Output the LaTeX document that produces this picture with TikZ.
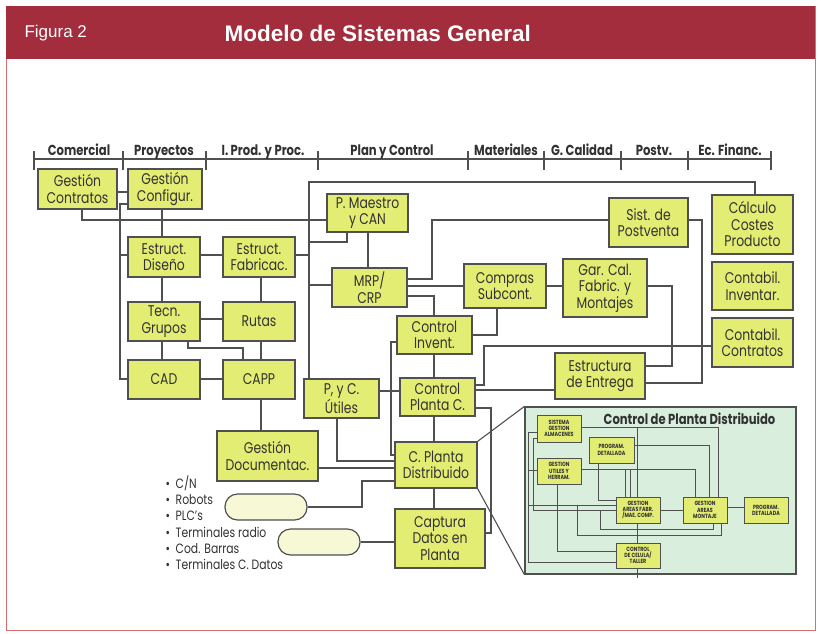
\documentclass[tikz,border=0pt]{standalone}
\usepackage{fontspec}
\setmainfont{Poppins}[FakeStretch=0.8]
\newfontfamily\headfont{Liberation Sans}
\pgfdeclarelayer{back}
\pgfdeclarelayer{wires}
\pgfsetlayers{back,wires,main}

\definecolor{headred}{RGB}{163,45,60}
\definecolor{framered}{RGB}{214,110,110}
\definecolor{boxfill}{RGB}{228,237,115}
\definecolor{boxline}{RGB}{80,80,80}
\definecolor{ink}{RGB}{50,50,50}
\definecolor{panelfill}{RGB}{218,238,222}
\definecolor{pillfill}{RGB}{246,248,214}

\tikzset{
  box/.style={draw=boxline, fill=boxfill, line width=1.3, inner sep=0, align=center,
    text=ink, font=\fontsize{15.5}{16.5}\selectfont},
  sz/.style 2 args={minimum width=#1, minimum height=#2},
  sbox/.style={draw=boxline, fill=boxfill, line width=0.9, inner sep=0, align=center,
    text=ink, font=\bfseries\fontsize{6}{6.3}\selectfont},
  conn/.style={draw=boxline, line width=1.1},
  thin conn/.style={draw=boxline, line width=0.9},
  area/.style={text=ink, anchor=base, font=\bfseries\fontsize{14.5}{15}\selectfont},
  bullet/.style={text=ink, anchor=base west, font=\fontsize{13.5}{14}\selectfont},
  pill/.style={draw=boxline, fill=pillfill, line width=1.2, rounded corners=12.5,
    minimum width=82, minimum height=26, inner sep=0},
  panel/.style={draw=boxline, fill=panelfill, line width=1.2, inner sep=0}
}

\begin{document}
\begin{tikzpicture}[x=1pt,y=-1pt]
\useasboundingbox (0,0) rectangle (821,633);

% page frame and title band
\begin{pgfonlayer}{back}
  \fill[white] (0,0) rectangle (821,633);
  \draw[framered, line width=1] (6,6) rectangle (815,630);
  \fill[headred] (6,6) rectangle (815,59);
  \node[anchor=west, text=white, font=\headfont\fontsize{17}{17}\selectfont] (fig) at (21,33) {Figura 2};
  \node[anchor=west, text=white, font=\headfont\bfseries\fontsize{22.5}{22.5}\selectfont] (title) at (221,33) {Modelo de Sistemas General};
  % distributed plant control panel
  \node[panel, sz={271}{167}] (panel) at (660.5,490.5) {};
\end{pgfonlayer}

% functional areas ruler
\draw[conn] (34,159) -- (771,159);
\foreach \x in {34,123,206,318,468,544,621,688,771}
  \draw[conn] (\x,151) -- (\x,170);
\node[area] (a1) at (79,155) {Comercial};
\node[area] (a2) at (164,155) {Proyectos};
\node[area] (a3) at (263,155) {I. Prod. y Proc.};
\node[area] (a4) at (392,155) {Plan y Control};
\node[area] (a5) at (506,155) {Materiales};
\node[area] (a6) at (582,155) {G. Calidad};
\node[area] (a7) at (654,155) {Postv.};
\node[area] (a8) at (730,155) {Ec. Financ.};

% main system boxes
\node[box, sz={79}{40}] (gcont) at (77.5,189) {Gestión\\Contratos};
\node[box, sz={74}{40}] (gconf) at (165,189) {Gestión\\Configur.};
\node[box, sz={81}{38}] (pmae) at (367.5,213) {P. Maestro\\y CAN};
\node[box, sz={72}{40}] (edis) at (164,257) {Estruct.\\Diseño};
\node[box, sz={72}{40}] (efab) at (259,257) {Estruct.\\Fabricac.};
\node[box, sz={75}{39}] (mrp) at (369.5,287.5) {MRP/\\CRP};
\node[box, sz={72}{39}] (tecn) at (164,321.5) {Tecn.\\Grupos};
\node[box, sz={72}{39}] (rutas) at (259,321.5) {Rutas};
\node[box, sz={72}{39}] (cad) at (164,379.5) {CAD};
\node[box, sz={72}{39}] (capp) at (259,379.5) {CAPP};
\node[box, sz={75}{39}] (pyc) at (341.5,398.5) {P, y C.\\Útiles};
\node[box, sz={75}{38}] (cinv) at (434.5,335) {Control\\Invent.};
\node[box, sz={75}{38}] (cpc) at (437.5,397) {Control\\Planta C.};
\node[box, sz={82}{46}] (cpd) at (436,465) {C. Planta\\Distribuido};
\node[box, sz={101}{50}] (gdoc) at (267.5,456) {Gestión\\Documentac.};
\node[box, sz={90}{59}] (capt) at (440,538.5) {Captura\\Datos en\\Planta};
\node[box, sz={82}{44}] (compras) at (505,286) {Compras\\Subcont.};
\node[box, sz={84}{58}] (garcal) at (605,288) {Gar. Cal.\\Fabric. y\\Montajes};
\node[box, sz={79}{49}] (postv) at (648.5,222.5) {Sist. de\\Postventa};
\node[box, sz={90}{46}] (estr) at (600,376) {Estructura\\de Entrega};
\node[box, sz={81}{59}] (calc) at (752.5,224.5) {Cálculo\\Costes\\Producto};
\node[box, sz={81}{48}] (cinvt) at (752.5,286) {Contabil.\\Inventar.};
\node[box, sz={81}{49}] (ccont) at (752.5,342.5) {Contabil.\\Contratos};

% shop-floor devices
\node[pill] (pill1) at (266,507) {};
\node[pill] (pill2) at (319,542) {};
\node[bullet] (b1) at (162,488) {\textbullet\ \ C/N};
\node[bullet] (b2) at (162,504) {\textbullet\ \ Robots};
\node[bullet] (b3) at (162,520) {\textbullet\ \ PLC's};
\node[bullet] (b4) at (162,537) {\textbullet\ \ Terminales radio};
\node[bullet] (b5) at (162,553) {\textbullet\ \ Cod. Barras};
\node[bullet] (b6) at (162,569) {\textbullet\ \ Terminales C. Datos};

% panel contents
\node[text=ink, font=\bfseries\fontsize{14.5}{15}\selectfont] (ptitle) at (689.5,419) {Control de Planta Distribuido};
\node[sbox, sz={44}{27}] (p1) at (559,428.5) {SISTEMA\\GESTION\\ALMACENES};
\node[sbox, sz={45}{26}] (p2) at (611.5,450) {PROGRAM.\\DETALLADA};
\node[sbox, sz={44}{26}] (p3) at (559,471) {GESTION\\UTILES Y\\HERRAM.};
\node[sbox, sz={44}{26}] (p4) at (638,510) {GESTION\\AREAS FABR.\\/MAE. COMP.};
\node[sbox, sz={44}{26}] (p5) at (705,510) {GESTION\\AREAS\\MONTAJE};
\node[sbox, sz={44}{26}] (p6) at (766,510) {PROGRAM.\\DETALLADA};
\node[sbox, sz={44}{25}] (p7) at (638,555.5) {CONTROL\\DE CELULA/\\TALLER};

\begin{pgfonlayer}{wires}
  % engineering column
  \draw[conn] (gcont.east |- 0,192) -- (gconf.west |- 0,192);
  \draw[conn] (gconf.west |- 0,204) -| (120,379) -- (cad.west |- 0,379);
  \draw[conn] (120,255) -- (edis.west |- 0,255);
  \draw[conn] (gcont.south -| 82,0) |- (pmae.west |- 0,220);
  \draw[conn] (gconf.south -| 162,0) -- (edis.north -| 162,0);
  \draw[conn] (edis.east |- 0,255) -- (efab.west |- 0,255);
  \draw[conn] (efab.east |- 0,255) -- (309,255);
  \draw[conn] (edis.south -| 162,0) -- (tecn.north -| 162,0);
  \draw[conn] (efab.south -| 261,0) -- (rutas.north -| 261,0);
  \draw[conn] (tecn.east |- 0,319) -- (rutas.west |- 0,319);
  \draw[conn] (tecn.south -| 162,0) -- (cad.north -| 162,0);
  \draw[conn] (tecn.south -| 188,0) |- (243,348) -- (capp.north -| 243,0);
  \draw[conn] (rutas.south -| 261,0) -- (capp.north -| 261,0);
  \draw[conn] (cad.east |- 0,379) -- (capp.west |- 0,379);
  \draw[conn] (capp.south -| 261,0) -- (gdoc.north -| 261,0);
  % planning trunk
  \draw[conn] (pyc.north -| 309,0) |- (755,182) -- (calc.north -| 755,0);
  \draw[conn] (pmae.south -| 347,0) |- (309,242);
  \draw[conn] (309,285) -- (mrp.west |- 0,285);
  \draw[conn] (pmae.south -| 368,0) -- (mrp.north -| 368,0);
  \draw[conn] (mrp.east |- 0,279) -| (432,220) -- (postv.west |- 0,220);
  \draw[conn] (mrp.east |- 0,286) -- (compras.west |- 0,286);
  \draw[conn] (mrp.east |- 0,296) -| (cinv.north -| 434,0);
  \draw[conn] (compras.east |- 0,286) -- (garcal.west |- 0,286);
  \draw[conn] (compras.south -| 497,0) |- (cinv.east |- 0,335);
  \draw[conn] (garcal.east |- 0,286) -| (672,366) -- (estr.east |- 0,366);
  \draw[conn] (postv.east |- 0,220) -| (702,383) -- (estr.east |- 0,383);
  % shop-floor column
  \draw[conn] (cinv.south -| 434,0) -- (cpc.north -| 434,0);
  \draw[conn] (cpc.east |- 0,385) -| (484,346) -- (ccont.west |- 0,346);
  \draw[conn] (cpc.east |- 0,390) -- (estr.west |- 0,390);
  \draw[conn] (cpc.east |- 0,408) -| (491,533) -- (capt.east |- 0,533);
  \draw[conn] (cpc.south -| 434,0) -- (cpd.north -| 434,0);
  \draw[conn] (cinv.west |- 0,342) -| (391,455) -- (cpd.west |- 0,455);
  \draw[conn] (pyc.east |- 0,391) -- (cpc.west |- 0,391);
  \draw[conn] (pyc.south -| 337,0) |- (cpd.west |- 0,461);
  \draw[conn] (gdoc.east |- 0,468) -- (cpd.west |- 0,468);
  \draw[conn] (cpd.west |- 0,481) -| (362,507) -- (pill1.east);
  \draw[conn] (pill2.east) -- (capt.west |- pill2.east);
  \draw[conn] (cpd.south -| 434,0) -- (capt.north -| 434,0);
  % callout to the panel
  \draw[conn] (cpd.north east) -- (panel.north west);
  \draw[conn] (cpd.south east) -- (panel.south west);
  % panel network
  \draw[thin conn] (p1.east |- 0,427) -| (p5.north -| 718,0);
  \draw[thin conn] (637,427) -- (p4.north -| 637,0);
  \draw[thin conn] (p4.south -| 637,0) -- (p7.north -| 637,0);
  \draw[thin conn] (p7.south -| 637,0) -- (637,578);
  \draw[thin conn] (p2.east |- 0,445) -| (p5.north -| 709,0);
  \draw[thin conn] (p2.south -| 598,0) |- (p4.west |- 0,500);
  \draw[thin conn] (p3.east |- 0,469) -| (p5.north -| 695,0);
  \draw[thin conn] (625,469) -- (p4.north -| 625,0);
  \draw[thin conn] (630,469) -- (p4.north -| 630,0);
  \draw[thin conn] (p3.south -| 557,0) |- (p7.west |- 0,551);
  \draw[thin conn] (p1.west |- 0,432) -| (528,562) -- (p7.west |- 0,562);
  \draw[thin conn] (p3.west |- 0,470) -- (528,470);
  \draw[thin conn] (p1.west |- 0,438) -| (533,510) -- (p4.west |- 0,510);
  \draw[thin conn] (528,505) -- (p4.west |- 0,505);
  \draw[thin conn] (577,505) |- (721,535) -- (p5.south -| 721,0);
  \draw[thin conn] (600,510) |- (713,529) -- (p5.south -| 713,0);
  \draw[thin conn] (p4.east |- 0,510) -- (p5.west |- 0,510);
  \draw[thin conn] (p5.east |- 0,507) -- (p6.west |- 0,507);
\end{pgfonlayer}
\end{tikzpicture}
\end{document}
